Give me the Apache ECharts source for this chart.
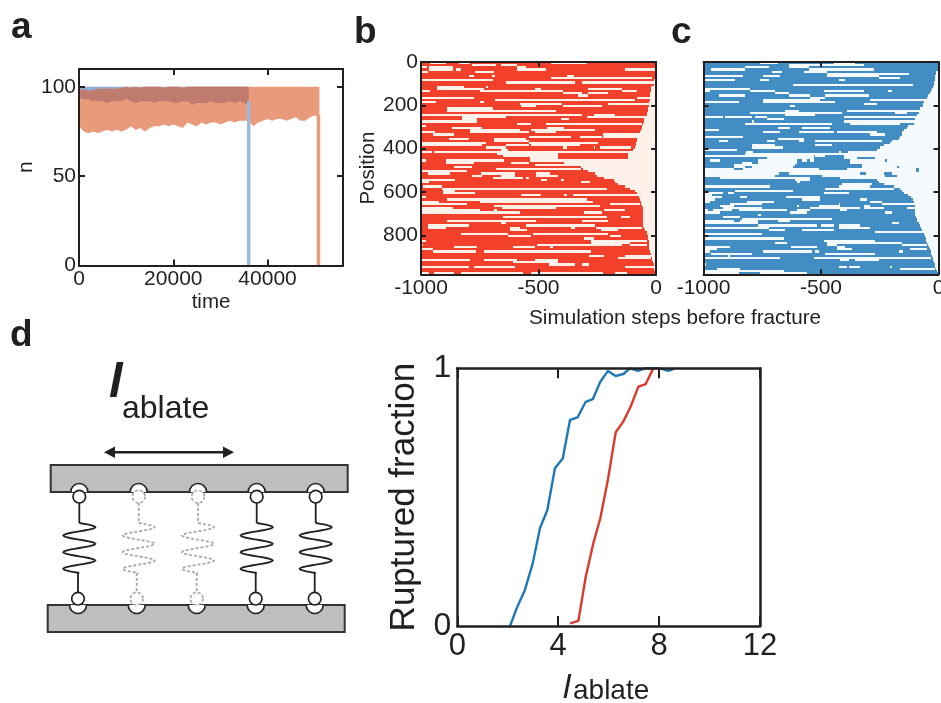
<!DOCTYPE html>
<html>
<head>
<meta charset="utf-8">
<title>Fracture panels</title>
<script src="https://cdn.jsdelivr.net/npm/echarts@6/dist/echarts.min.js"></script>
<style>
html, body { margin: 0; padding: 0; background: #fff; }
#main { width: 941px; height: 703px; }
</style>
</head>
<body>
<div id="main"></div>
<script type="text/javascript">
// panel a: envelope of n(t), one value per 1000 time steps
var timeA = [0,1000,2000,3000,4000,5000,6000,7000,8000,9000,10000,11000,12000,13000,14000,15000,16000,17000,18000,19000,20000,21000,22000,23000,24000,25000,26000,27000,28000,29000,30000,31000,32000,33000,34000,35000,36000,37000,38000,39000,40000,41000,42000,43000,44000,45000,46000,47000,48000,49000,50000,51000];
var orangeLow = [78,75,74,75,74,75,76,75,76,75,76,78,76,77,75,77,78,78,79,78,79,78,77,80,79,78,80,79,80,80,79,80,81,80,81,81,81,78,80,81,82,81,82,82,81,82,83,81,81,83,84,83];
var orangeHigh = [98,98.5,98,98,99,99,99,99,99,99.5,100,99.5,100,99.5,100,100,100,100,99.5,100,100,100,99.5,100,100,100,100,100,100,100,100,100,100,100,100,100,100,100,100,100,100,100,100,100,100,100,100,100,100,100,100,100];
var blueLow = [94,93,93,92,92,92,91,92,92,92,93,92,91,92,92,92,91,92,92,92,91,91,92,92,90,91,91,91,92,91,91,91,92,91,92,91,90];
var blueTime = timeA.slice(0, blueLow.length);
var blueHigh = blueLow.map(function () { return 100; });
var blueEnd = 36000;
var orangeEnd = 50800;

// panels b and c: rows are 10 positions high, values are simulation steps.
// gaps = unbroken stretches inside a row [from,to,from,to...], front = where the row ends
var rowStep = 10;
var gapsB = [
[-960,-895,-840,-790,-445,-295],
[-785,-680,-660,-590],
[-1000,-975,-965,-865,-590,-555],
[-965,-865,-850,-830,-590,-470,-130,0],
[-1000,-970,-770,-690],
[],
[-795,-775,-700,-685,-380,-350],
[-445,-15],
[-1000,-695],
[-640,-345,-315,-10],
[],
[-930,-815,-725,-715],
[-930,-730,-515,-490,-290,-145],
[-1000,-960,-750,-395,-145,-80],
[-395,-315,-290,-205],
[-330,-290],
[-1000,-775,-80,-25],
[-685,-90],
[-1000,-935,-750,-730],
[-580,-400,-205,-25],
[-575,-510,-395,-230],
[-890,-695],
[-890,-425],
[],
[-1000,-315,-265,-175],
[-825,-640,-295,-45],
[-825,-760,-405,-370],
[-1000,-760],
[-590,-530,-470,-60],
[-1000,-980],
[-870,-740,-465,-390],
[-790,-580,-530,-260],
[-1000,-940,-790,-540,-515,-425],
[-950,-860,-225,-70],
[-540,-360,-325,-230,-225,-80],
[-880,-795,-690,-555],
[-690,-540],
[-1000,-725,-540,-245],
[-1000,-740,-640,-540,-530,-325],
[-725,-640,-395,-380,-265,-258,-240,-105],
[-660,-630],
[-1000,-955,-945,-105],
[-675,-415],
[-650,-415],
[-535,-415],
[-1000,-980,-895,-645,-535,-445],
[-895,-775,-615,-540],
[-515,-390],
[-860,-785],
[-680,-320],
[-1000,-805],
[-970,-875,-745,-600,-510,-450],
[-785,-740,-660,-600,-510,-415],
[-695,-565,-555,-540],
[-1000,-855,-490,-465,-405,-390],
[-1000,-965,-320,-280],
[],
[-990,-910],
[-910,-210],
[-905,-855],
[-905,-770],
[-575,-490,-390,-380,-355,-75],
[-1000,-980],
[-890,-295],
[-1000,-925,-750,-270],
[-1000,-805,-195,-70],
[-690,-240],
[-1000,-865,-655,-425],
[-1000,-750,-690,-675,-220,-130],
[-1000,-580,-305,-230],
[],
[-650,-210,-150,-110],
[],
[-890,-510,-315,-205],
[-660,-640],
[-970,-795,-555,-260],
[-970,-895,-620,-580,-360,-345,-255,-60],
[-620,-550,-235,-160],
[],
[-830,-630,-525,-205],
[-630,-530,-195,-150],
[-305,-265],
[-1000,-980,-275,-40],
[-275,-110],
[-1000,-990,-505,-145,-110,-40],
[-860,-760,-610,-515,-450,-440],
[-1000,-950],
[-950,-765,-730,-275],
[],
[-285,-220,-130,-20],
[-160,-20],
[-1000,-790,-730,-590,-515,-415],
[-610,-415],
[-455,-345,-315,-285],
[-1000,-795,-775,-600,-130,-10],
[],
[],
[-1000,-965,-945,-860,-830,-820,-825,-565,-530,-225,-175,-125]
];
var frontB = [0,0,0,0,0,0,0,0,-10,-10,-10,-20,-20,-20,-25,-25,-25,-25,-30,-30,-30,-35,-35,-40,-40,-45,-50,-50,-55,-60,-60,-65,-70,-70,-80,-80,-80,-85,-85,-90,-100,-110,-120,-120,-120,-445,-390,-390,-320,-310,-290,-260,-250,-220,-180,-175,-160,-130,-110,-90,-80,-75,-72,-70,-65,-62,-60,-55,-55,-55,-55,-55,-55,-55,-55,-55,-50,-45,-40,-38,-35,-33,-30,-30,-30,-30,-28,-25,-22,-20,-18,-15,-12,-10,-10,-8,-5,0];

var gapsC = [
[-759,-685,-446,-354],
[-638,-318],
[-823,-723,-638,-553],
[-969,-823,-553,-276],
[-709,-666,-574,-475],
[-475,-127],
[-1000,-830,-747,-673,-475,-254],
[-254,-162],
[-1000,-865,-759,-723,-425,-396],
[],
[-619,-108],
[],
[-1000,-801],
[-1000,-972,-801,-695,-489,-318,-216,-198],
[-695,-638],
[-932,-823,-638,-546,-482,-297],
[-546,-482],
[-747,-503,-290,-44],
[-1000,-851,-747,-439],
[-318,-262],
[-631,-610],
[],
[-652,-595,-389,-77],
[-804,-411,-183,-134],
[-652,-524],
[-1000,-915,-908,-794,-780,-730,-404,-95],
[-730,-659],
[-794,-784,-404,-77],
[-823,-453,-375,-162],
[],
[-685,-631,-581,-460],
[-1000,-932],
[-747,-673,-595,-446,-432,-262],
[-290,-226],
[-1000,-830],
[-685,-574],
[-932,-894,-730,-695,-595,-574,-524,-240],
[],
[-794,-695,-524,-453],
[-794,-660],
[-1000,-858],
[-820,-790,-425,-415],
[],
[-1000,-531,-524,-482],
[-730,-531,-404,-347],
[-972,-929,-766,-602,-581,-560,-546,-531,-375,-226],
[-837,-794,-766,-602],
[-872,-610],
[-872,-823,-794,-619,-326,-176],
[-1000,-872,-830,-510,-389,-94],
[-1000,-94],
[-1000,-680,-638,-333,-308,-233],
[-1000,-695,-496,-226],
[-929,-546],
[-610,-546],
[-602,-590],
[-411,-283],
[-1000,-715,-425,-290],
[-482,-190],
[-865,-619],
[-1000,-915,-894,-872,-489,-382],
[-1000,-965],
[-1000,-922,-844,-815,-648,-503],
[-1000,-950,-581,-503,-333,-304],
[-1000,-972,-815,-702,-290,-240],
[-886,-752,-425,-418,-240,-105],
[-929,-872,-602,-595,-510,-418,-318,-290],
[-915,-752,-546,-333,-318,-233,-134,-98],
[-1000,-979,-958,-879,-851,-645,-602,-546,-418,-389],
[-1000,-929,-631,-560,-226,-200],
[-766,-756],
[-915,-844],
[-837,-453],
[-1000,-872,-844,-766,-685,-631],
[-1000,-766,-198,-169],
[-766,-517,-500,-446,-425,-333],
[-1000,-723,-425,-290],
[-723,-652,-581,-446],
[-269,-63],
[-1000,-752],
[],
[-1000,-659],
[-489,-269],
[-695,-645,-475,-155],
[-475,-432,-155,-49],
[-1000,-886,-628,-517,-432,-400],
[-1000,-943,-432,-368,-120,-49],
[-1000,-972,-747,-538,-524,-510,-166,-151],
[-969,-794,-482,-269],
[-894,-886],
[-1000,-673,-531,-34],
[-418,-382,-357,-254],
[],
[-1000,-989],
[-425,-389,-382,-333,-208,-200],
[-943,-844,-162,-13],
[-1000,-659],
[-1000,-851,-759,-560]
];
var frontC = [0,0,0,0,-10,-10,-13,-13,-13,-20,-20,-25,-28,-32,-35,-45,-48,-55,-60,-65,-65,-80,-80,-85,-90,-95,-100,-105,-105,-130,-134,-145,-155,-155,-165,-170,-198,-205,-233,-250,-260,-385,-823,-404,-269,-219,-375,-326,-166,-84,-84,-198,-176,-418,-262,-254,-230,-190,-165,-155,-148,-130,-115,-108,-105,-103,-102,-100,-100,-98,-98,-95,-92,-90,-85,-80,-75,-70,-66,-62,-58,-55,-52,-50,-46,-42,-38,-34,-32,-28,-25,-22,-20,-16,-13,-10,-6,-3];

// panel d: ruptured fraction against the ablated length
var blueCurveX = [2.09,2.38,2.68,2.99,3.28,3.57,3.87,4.18,4.47,4.77,5.09,5.37,5.67,5.97,6.28,6.58,6.85,7.17,7.44,7.77,8.03,8.37,8.63];
var blueCurveY = [0,0.075,0.14,0.243,0.38,0.45,0.612,0.65,0.80,0.81,0.87,0.88,0.948,0.99,0.97,0.978,1,0.99,1,1,1,0.99,1];
var redCurveX = [4.47,4.8,5.09,5.39,5.67,5.97,6.28,6.58,6.87,7.18,7.47,7.77];
var redCurveY = [0.01,0.02,0.19,0.32,0.418,0.567,0.752,0.793,0.851,0.929,0.939,1];

var ink = '#231f20';
var font = '"Liberation Sans", Arial, sans-serif';

function zip(a, b) {
	return a.map(function (v, i) { return [v, b[i]]; });
}

// turns rows of gaps into filled runs [row position, from, to]
function runsFromGaps(gaps, front) {
	var runs = [];
	for (var r = 0; r < gaps.length; r++) {
		var pos = -1000, g = gaps[r], end = front[r];
		for (var i = 0; i < g.length; i += 2) {
			if (g[i] > pos) runs.push([r * rowStep, pos, Math.min(g[i], end)]);
			pos = Math.max(pos, g[i + 1]);
		}
		if (pos < end) runs.push([r * rowStep, pos, end]);
	}
	return runs;
}

function runSeries(idx, runs, color) {
	return {
		type: 'custom', xAxisIndex: idx, yAxisIndex: idx, clip: true, silent: true,
		encode: { x: [1, 2], y: 0 },
		data: runs,
		renderItem: function (params, api) {
			var a = api.coord([api.value(1), api.value(0)]);
			var b = api.coord([api.value(2), api.value(0) + rowStep]);
			// snapped to whole pixels, otherwise neighbouring rows leave seams
			var x0 = Math.round(a[0]), y0 = Math.round(a[1]);
			return {
				type: 'rect',
				shape: { x: x0, y: y0, width: Math.round(b[0]) - x0, height: Math.round(b[1]) - y0 },
				style: { fill: color }
			};
		}
	};
}

function bandSeries(times, low, high, color) {
	return {
		type: 'custom', xAxisIndex: 0, yAxisIndex: 0, clip: true, silent: true,
		data: [[times[0], low[0]]],
		renderItem: function (params, api) {
			var pts = [], i;
			for (i = 0; i < times.length; i++) pts.push(api.coord([times[i], low[i]]));
			for (i = times.length - 1; i >= 0; i--) pts.push(api.coord([times[i], high[i]]));
			return { type: 'polygon', shape: { points: pts }, style: { fill: color } };
		}
	};
}

function dropSeries(t, top, color) {
	return {
		type: 'line', xAxisIndex: 0, yAxisIndex: 0, showSymbol: false, silent: true,
		lineStyle: { color: color, width: 3.5 },
		data: [[t, top], [t, 0]]
	};
}

function curveSeries(xs, ys, color) {
	return {
		type: 'line', xAxisIndex: 3, yAxisIndex: 3, showSymbol: false, silent: true,
		lineStyle: { color: color, width: 2.4 }, data: zip(xs, ys)
	};
}

// box axes: the first one of a pair carries labels, the mirrored one only ticks
function axisPair(pos, cfg) {
	var mirror = { top: 'bottom', bottom: 'top', left: 'right', right: 'left' }[pos];
	var base = {
		type: 'value', gridIndex: cfg.grid, min: cfg.min, max: cfg.max, interval: cfg.interval,
		inverse: !!cfg.inverse, splitLine: { show: false }, z: 10,
		axisLine: { show: true, onZero: false, lineStyle: { color: ink, width: cfg.lineWidth || 2 } },
		axisTick: { show: !cfg.noTicks, inside: true, length: cfg.tick || 6, lineStyle: { color: ink, width: 2 } }
	};
	var first = echarts.util.merge({
		position: pos,
		axisLabel: {
			show: !cfg.noLabels, color: ink, fontFamily: font, fontSize: cfg.font || 21, margin: cfg.margin || 3,
			showMaxLabel: cfg.showMax !== false, showMinLabel: true,
			padding: cfg.labelPadding || 0,
			formatter: function (v) { return String(v); }
		},
		name: cfg.name, nameLocation: 'middle', nameGap: cfg.nameGap,
		nameTextStyle: { color: ink, fontFamily: font, fontSize: cfg.nameSize || 21 }
	}, base, true);
	var second = echarts.util.merge({ position: mirror, axisLabel: { show: false } }, base, true);
	return [first, second];
}

function axisSet(list) {
	var out = [];
	list.forEach(function (p) { out.push(p[0], p[1]); });
	return out;
}

var xAxes = axisSet([
	axisPair('bottom', { grid: 0, min: 0, max: 56000, interval: 20000, showMax: false, name: 'time', nameGap: 26, nameSize: 20.5 }),
	axisPair('bottom', { grid: 1, min: -1000, max: 0, interval: 500, tick: 5 }),
	axisPair('bottom', { grid: 2, min: -1000, max: 0, interval: 500, tick: 5 }),
	axisPair('bottom', { grid: 3, min: 0, max: 12, interval: 4, tick: 10, font: 31, margin: 5, lineWidth: 2.5 })
]);
var yAxes = axisSet([
	axisPair('left', { grid: 0, min: 0, max: 110, interval: 50, showMax: false, name: 'n', nameGap: 37 }),
	axisPair('left', { grid: 1, min: 0, max: 980, interval: 200, inverse: true, tick: 5, showMax: false, name: 'Position', nameGap: 33, nameSize: 20.5 }),
	axisPair('left', { grid: 2, min: 0, max: 980, interval: 200, inverse: true, tick: 5, noLabels: true }),
	axisPair('left', { grid: 3, min: 0, max: 1, interval: 1, noTicks: true, font: 32, margin: 6, labelPadding: [6, 0, 0, 0], lineWidth: 2.5, name: 'Ruptured fraction', nameGap: 35, nameSize: 35 })
]);

// each plot owns two axes, so the data series point at even indices
function evenIndex(s) {
	s.xAxisIndex = s.xAxisIndex * 2;
	s.yAxisIndex = s.yAxisIndex * 2;
	return s;
}

var series = [
	bandSeries(blueTime, blueLow, blueHigh, '#8fadd8'),
	bandSeries(timeA, orangeLow, orangeHigh, '#e89a7b'),
	bandSeries(blueTime, blueLow, orangeHigh.slice(0, blueTime.length), '#bf7b6e'),
	dropSeries(blueEnd, 92, '#9cb8df'),
	dropSeries(orangeEnd, 84, '#e89a7b'),
	runSeries(1, runsFromGaps(gapsB, frontB), '#f3402b'),
	runSeries(2, runsFromGaps(gapsC, frontC), '#418dc4'),
	curveSeries(blueCurveX, blueCurveY, '#1f78b4'),
	curveSeries(redCurveX, redCurveY, '#d93a2b')
].map(evenIndex);

// text placed by its baseline
function text(str, x, baseline, size, extra) {
	return {
		type: 'text', z: 20,
		style: echarts.util.merge({ text: str, x: x, y: baseline - 0.35 * size, fontSize: size, fontFamily: font, fill: ink, verticalAlign: 'middle' }, extra || {}, true)
	};
}

// schematic of panel d, no data in it
function plate(x, y, w, h) {
	return { type: 'rect', z: 20, shape: { x: x, y: y, width: w, height: h }, style: { fill: '#bcbec0', stroke: '#333', lineWidth: 2 } };
}

function seg(a, b, color, dash) {
	return { type: 'line', z: 21, shape: { x1: a[0], y1: a[1], x2: b[0], y2: b[1] }, style: { stroke: color, lineWidth: 1.8, lineDash: dash } };
}

function spring(x, y0, y1, color, dash) {
	var pts = [];
	for (var k = 0; k <= 60; k++) {
		var y = y0 + (y1 - y0) * k / 60;
		pts.push([x + 16 * Math.sin(2 * Math.PI * 3 * k / 60), y]);
	}
	return { type: 'polyline', z: 21, shape: { points: pts }, style: { stroke: color, lineWidth: 1.8, fill: null, lineDash: dash } };
}

function bead(x, y, notchY, into, cut) {
	var color = cut ? '#a7a9ac' : ink;
	return [
		{ type: 'arc', z: 21, shape: { cx: x, cy: notchY, r: 8.5, startAngle: into === 'up' ? Math.PI : 0, endAngle: into === 'up' ? 2 * Math.PI : Math.PI, clockwise: true }, style: { stroke: '#222', lineWidth: 1.7, fill: '#fff' } },
		{ type: 'circle', z: 22, shape: { cx: x, cy: y, r: 6.3 }, style: { fill: '#fff', stroke: color, lineWidth: 1.7, lineDash: cut ? [3, 2] : null } }
	];
}

var schematic = [plate(50.7, 465, 297, 27), plate(47.7, 605, 297, 27)];
var topBeads = [79.3, 138.7, 198, 256.7, 315.7];
var bottomBeads = [78, 136.7, 196.7, 255.7, 314.7];
topBeads.forEach(function (tx, i) {
	var cut = i === 1 || i === 2;
	var bx = bottomBeads[i];
	var color = cut ? '#a7a9ac' : ink;
	var dash = cut ? [3, 2] : null;
	schematic.push(seg([tx, 503], [tx, 523], color, dash));
	schematic.push(spring(tx, 523, 573, color, dash));
	schematic.push(seg([bx, 573], [bx, 592], color, dash));
	schematic = schematic.concat(bead(tx, 496.7, 492, 'up', cut));
	schematic = schematic.concat(bead(bx, 598.7, 605, 'down', cut));
});

// double arrow above the plate
schematic.push({ type: 'line', z: 20, shape: { x1: 110, y1: 452.3, x2: 228, y2: 452.3 }, style: { stroke: ink, lineWidth: 2.6 } });
schematic.push({ type: 'polygon', z: 20, shape: { points: [[104, 452.3], [115, 446.5], [115, 458]] }, style: { fill: ink } });
schematic.push({ type: 'polygon', z: 20, shape: { points: [[234, 452.3], [223, 446.5], [223, 458]] }, style: { fill: ink } });

var labels = [
	text('a', 11, 40.3, 37, { fontWeight: 'bold' }),
	text('b', 354, 46, 37, { fontWeight: 'bold' }),
	text('c', 671, 46, 37, { fontWeight: 'bold' }),
	text('d', 10, 348.7, 37, { fontWeight: 'bold' }),
	text('Simulation steps before fracture', 529, 326, 20.7),
	text('l', 109, 401, 49, { fontStyle: 'italic', fontWeight: 'bold' }),
	text('ablate', 122, 420, 32),
	text('l', 563, 700, 34, { fontStyle: 'italic' }),
	text('ablate', 573, 701, 28)
];

var myChart = echarts.init(document.getElementById('main'), null, { renderer: 'canvas' });
myChart.setOption({
	animation: false,
	backgroundColor: '#fff',
	grid: [
		{ left: 79, top: 69, width: 264, height: 196.5, outerBoundsMode: 'none' },
		{ left: 421, top: 62, width: 235, height: 212.3, show: true, borderWidth: 0, backgroundColor: '#fdf1ea', outerBoundsMode: 'none' },
		{ left: 703.5, top: 62, width: 235, height: 212.3, show: true, borderWidth: 0, backgroundColor: '#f4fafe', outerBoundsMode: 'none' },
		{ left: 457.3, top: 368.3, width: 302.7, height: 257.7, outerBoundsMode: 'none' }
	],
	xAxis: xAxes,
	yAxis: yAxes,
	series: series,
	graphic: { elements: schematic.concat(labels) }
});
</script>
</body>
</html>
